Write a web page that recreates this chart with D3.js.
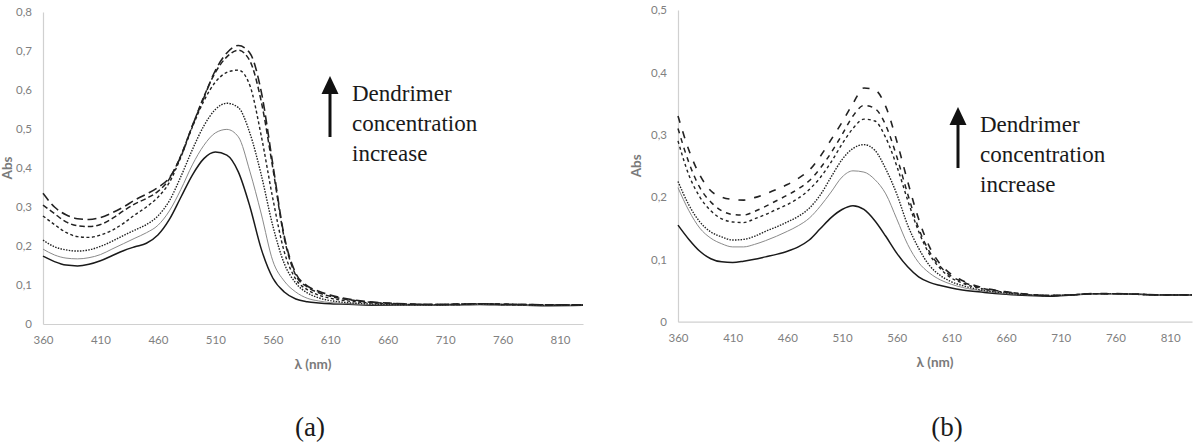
<!DOCTYPE html>
<html>
<head>
<meta charset="utf-8">
<script src="https://cdn.jsdelivr.net/npm/d3@7"></script>
<style>
  body { margin: 0; background: #fff; }
  svg { display: block; }
  .tick text { font-family: Lato, 'Open Sans', sans-serif; font-size: 11.5px; fill: #808080; }
  .axis-title { font-family: Lato, 'Open Sans', 'DejaVu Sans', sans-serif; font-size: 13.5px; font-weight: bold; fill: #7a7a7a; }
  .note { font-family: 'Liberation Serif', Tinos, 'Times New Roman', Times, 'DejaVu Serif', 'Noto Serif', serif; fill: #1a1a1a; }
</style>
</head>
<body>
<svg id="fig" width="1197" height="444"></svg>
<script>
// wavelength grid (nm) shared by all spectra
const wavelengths = [360, 370, 380, 390, 400, 410, 420, 430, 440, 450, 460, 470, 480, 490, 500,
  510, 520, 530, 540, 550, 560, 570, 580, 590, 600, 610, 620, 640, 660, 680, 700, 720, 740,
  760, 780, 800, 830];
const xTicks = [360, 410, 460, 510, 560, 610, 660, 710, 760, 810];
const yTicksA = [0, 0.1, 0.2, 0.3, 0.4, 0.5, 0.6, 0.7, 0.8];
const yTicksB = [0, 0.1, 0.2, 0.3, 0.4, 0.5];
const panelLabels = ['(a)', '(b)'];
const noteLines = ['Dendrimer', 'concentration', 'increase'];

// panel (a): absorbance, lowest -> highest dendrimer concentration
const absA1 = [.174, .160, .151, .149, .153, .162, .175, .188, .198, .207, .228, .268, .325, .382, .424,
  .441, .433, .390, .302, .192, .118, .082, .064, .057, .054, .052, .051, .049, .048, .048, .048, .049, .050,
  .049, .048, .047, .048];
const absA2 = [.192, .177, .169, .167, .170, .178, .192, .206, .220, .234, .253, .290, .345, .408, .458,
  .490, .499, .480, .392, .282, .162, .110, .082, .066, .059, .055, .053, .050, .049, .048, .048, .049, .050,
  .049, .048, .048, .048];
const absA3 = [.215, .198, .190, .187, .190, .199, .212, .227, .241, .255, .277, .316, .378, .447, .508,
  .550, .566, .555, .490, .382, .252, .155, .105, .080, .067, .060, .056, .052, .050, .049, .049, .050, .051,
  .050, .049, .048, .048];
const absA4 = [.277, .255, .235, .224, .222, .228, .240, .258, .280, .300, .325, .363, .428, .505, .572,
  .620, .645, .651, .612, .482, .322, .185, .115, .088, .074, .066, .061, .055, .052, .050, .050, .050, .052,
  .050, .049, .049, .049];
const absA5 = [.305, .283, .262, .252, .250, .255, .270, .290, .308, .322, .340, .372, .432, .508, .583,
  .645, .685, .702, .675, .570, .400, .220, .125, .095, .080, .071, .065, .057, .053, .051, .050, .051, .052,
  .051, .050, .049, .049];
const absA6 = [.335, .300, .280, .270, .268, .273, .285, .300, .318, .333, .350, .375, .430, .508, .580,
  .650, .695, .714, .695, .595, .410, .225, .130, .098, .084, .074, .067, .058, .054, .051, .050, .051, .052,
  .051, .050, .049, .049];

// panel (b)
const absB1 = [.155, .132, .113, .101, .096, .095, .097, .100, .104, .108, .113, .120, .131, .149, .167,
  .180, .186, .180, .162, .137, .110, .088, .072, .063, .058, .054, .051, .047, .044, .042, .041, .043, .045,
  .045, .044, .043, .043];
const absB2 = [.215, .178, .150, .134, .125, .120, .120, .124, .130, .137, .145, .154, .166, .185, .208,
  .232, .242, .240, .228, .205, .165, .124, .095, .078, .067, .060, .055, .049, .045, .043, .042, .043, .045,
  .045, .044, .043, .043];
const absB3 = [.225, .187, .160, .144, .136, .131, .132, .137, .145, .152, .160, .169, .182, .203, .232,
  .260, .278, .284, .275, .245, .205, .155, .118, .090, .074, .064, .058, .050, .046, .043, .042, .043, .045,
  .045, .044, .043, .043];
const absB4 = [.290, .235, .200, .178, .165, .160, .159, .165, .172, .180, .188, .198, .212, .231, .256,
  .285, .310, .325, .322, .295, .250, .195, .145, .108, .085, .070, .062, .052, .047, .043, .042, .043, .045,
  .045, .044, .043, .043];
const absB5 = [.310, .255, .215, .192, .178, .172, .171, .177, .185, .194, .203, .213, .226, .246, .271,
  .300, .330, .347, .342, .315, .265, .205, .150, .112, .088, .073, .064, .053, .048, .044, .042, .043, .045,
  .045, .044, .043, .043];
const absB6 = [.330, .275, .235, .210, .200, .196, .195, .199, .205, .212, .220, .230, .243, .265, .292,
  .320, .350, .375, .372, .345, .290, .225, .165, .120, .092, .076, .066, .054, .048, .044, .042, .043, .045,
  .045, .044, .043, .043];

const svg = d3.select('#fig');
const commaFmt = d3.formatLocale({ decimal: ',', thousands: '.', grouping: [3], currency: ['', ''] });
const fmtY = d => d === 0 ? '0' : commaFmt.format('.1f')(d);

function drawPanel(opts) {
  const { left, right, top, bottom, yMax, yTicks, series, styles } = opts;

  const x = d3.scaleLinear().domain([360, 830]).range([left, right]);
  const y = d3.scaleLinear().domain([0, yMax]).range([bottom, top]);

  const g = svg.append('g');

  // axes: light grey lines, no tick marks
  const xAxis = g.append('g')
    .attr('transform', `translate(0,${bottom})`)
    .call(d3.axisBottom(x).tickValues(xTicks).tickSize(0).tickPadding(12).tickFormat(d3.format('d')));
  const yAxis = g.append('g')
    .attr('transform', `translate(${left},0)`)
    .call(d3.axisLeft(y).tickValues(yTicks).tickSize(0).tickPadding(11).tickFormat(fmtY));
  [xAxis, yAxis].forEach(a => a.select('.domain').attr('stroke', '#d0d0d0').attr('stroke-width', 1.2));

  const line = d3.line()
    .x((d, i) => x(wavelengths[i]))
    .y(d => y(d))
    .curve(d3.curveMonotoneX);

  g.selectAll('path.spectrum')
    .data(series)
    .enter()
    .append('path')
    .attr('class', 'spectrum')
    .attr('fill', 'none')
    .attr('d', line)
    .attr('stroke', (d, i) => styles[i].stroke)
    .attr('stroke-width', (d, i) => styles[i].width)
    .attr('stroke-dasharray', (d, i) => styles[i].dash)
    .attr('stroke-linejoin', 'round');

  // axis titles
  g.append('text')
    .attr('class', 'axis-title')
    .attr('transform', `translate(${opts.absX},${(top + bottom) / 2}) rotate(-90)`)
    .attr('text-anchor', 'middle')
    .text('Abs');
  g.append('text')
    .attr('class', 'axis-title')
    .attr('x', (left + right) / 2)
    .attr('y', bottom + 45)
    .attr('text-anchor', 'middle')
    .text('λ (nm)');

  // "concentration increase" arrow + note
  const ax = opts.arrow.x, at = opts.arrow.top;
  g.append('line')
    .attr('x1', ax).attr('x2', ax)
    .attr('y1', at + 14).attr('y2', at + 61)
    .attr('stroke', '#111').attr('stroke-width', 3);
  g.append('path')
    .attr('d', `M${ax},${at} L${ax - 8.5},${at + 18} L${ax + 8.5},${at + 18} Z`)
    .attr('fill', '#111');
  g.append('text')
    .attr('class', 'note')
    .attr('font-size', 23)
    .selectAll('tspan')
    .data(noteLines)
    .enter()
    .append('tspan')
    .attr('x', ax + 22)
    .attr('y', (d, i) => at + 25 + i * 30)
    .text(d => d);

  g.append('text')
    .attr('class', 'note')
    .attr('font-size', 27)
    .attr('x', opts.labelX)
    .attr('y', 436)
    .attr('text-anchor', 'middle')
    .text(opts.label);
}

const stylesA = [
  { stroke: '#1a1a1a', width: 1.5, dash: null },
  { stroke: '#8a8a8a', width: 1, dash: null },
  { stroke: '#222', width: 1.4, dash: '1.5,1.3' },
  { stroke: '#222', width: 1.4, dash: '3,2.5' },
  { stroke: '#222', width: 1.5, dash: '5.5,3' },
  { stroke: '#222', width: 1.6, dash: '9,4.5' }
];
const stylesB = [
  { stroke: '#1a1a1a', width: 1.5, dash: null },
  { stroke: '#8a8a8a', width: 1, dash: null },
  { stroke: '#222', width: 1.4, dash: '1.5,1.3' },
  { stroke: '#222', width: 1.4, dash: '3,3' },
  { stroke: '#222', width: 1.5, dash: '5,5' },
  { stroke: '#222', width: 1.6, dash: '7,9' }
];

drawPanel({
  left: 43, right: 583, top: 12, bottom: 324, yMax: 0.8, yTicks: yTicksA,
  series: [absA1, absA2, absA3, absA4, absA5, absA6], styles: stylesA,
  absX: 12, arrow: { x: 330, top: 76 }, label: panelLabels[0], labelX: 310
});
drawPanel({
  left: 678, right: 1192, top: 10, bottom: 321.7, yMax: 0.5, yTicks: yTicksB,
  series: [absB1, absB2, absB3, absB4, absB5, absB6], styles: stylesB,
  absX: 641, arrow: { x: 958, top: 107 }, label: panelLabels[1], labelX: 947
});
</script>
</body>
</html>
